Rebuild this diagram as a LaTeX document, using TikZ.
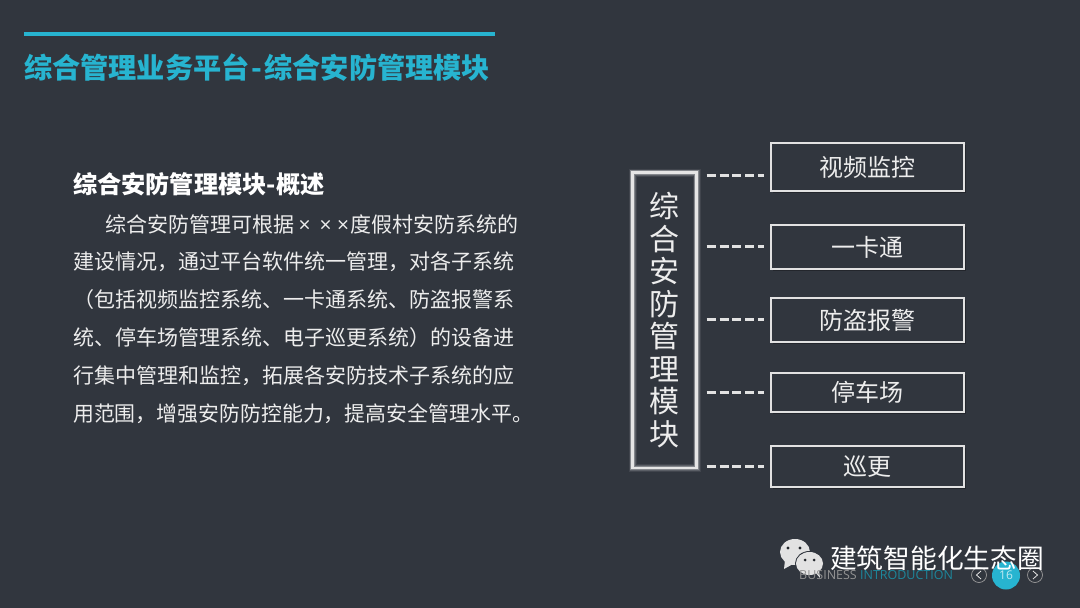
\documentclass[tikz,border=0pt]{standalone}
\usepackage{fontspec}
\setmainfont{Noto Sans CJK SC}
\newfontfamily\latinf{Open Sans}
\usetikzlibrary{calc}
\definecolor{bgc}{HTML}{31363E}
\definecolor{cyanc}{HTML}{27B4D0}
\definecolor{linec}{HTML}{E2E2E2}
\definecolor{bodyc}{HTML}{EDEDED}
\newcommand{\smx}{{\latinf\fontsize{21}{21}\selectfont ×}}
\tikzset{
  bodyline/.style={anchor=west,inner sep=0pt,text=bodyc,font=\fontsize{21}{21}\selectfont},
  itembox/.style={draw=linec,fill=bgc,line width=1.6pt,minimum width=193pt,inner sep=0pt,text=bodyc,font=\fontsize{24}{24}\selectfont},
  dashline/.style={draw=linec,line width=3pt,dash pattern=on 9pt off 3.8pt,shorten <=9pt,shorten >=6pt},
  navring/.style={draw=gray!80,line width=0.7pt,circle,minimum size=15pt,inner sep=0pt},
}
\begin{document}
\begin{tikzpicture}[x=1pt,y=-1pt]
\useasboundingbox (0,0) rectangle (1080,608);
\fill[bgc] (0,0) rectangle (1080,608);
% title
\coordinate (ruleA) at (24,34);
\coordinate (ruleB) at (495,34);
\draw[cyanc,line width=4.4pt] (ruleA) -- (ruleB);
\node[anchor=west,inner sep=0pt,text=cyanc,font=\fontsize{28.2}{28}\selectfont\bfseries] (title) at (24,67.5) {综合管理业务平台\hspace{1.5pt}-\hspace{2.5pt}综合安防管理模块};
% text
\node[anchor=west,inner sep=0pt,text=white,font=\fontsize{24.2}{24}\selectfont\bfseries] (head) at (73,184) {综合安防管理模块-概述};
\node[bodyline] (l1) at (105,224) {综合安防管理可根据\makebox[21pt]{\smx}\makebox[21pt]{\smx}\makebox[14pt]{\smx}度假村安防系统的};
\node[bodyline] (l2) at (73,262) {建设情况，通过平台软件统一管理，对各子系统};
\node[bodyline] (l3) at (73,300) {（包括视频监控系统、一卡通系统、防盗报警系};
\node[bodyline] (l4) at (73,338) {统、停车场管理系统、电子巡更系统）的设备进};
\node[bodyline] (l5) at (73,376) {行集中管理和监控，拓展各安防技术子系统的应};
\node[bodyline,font=\fontsize{20.9}{21}\selectfont] (l6) at (73,414) {用范围，增强安防防控能力，提高安全管理水平。};
% main box with glow
\foreach \w/\o in {8/0.08,6/0.14,4.5/0.25}{
  \draw[white,opacity=\o,line width=\w pt] (632.5,172.5) rectangle (696.5,468);
}
\node[draw=white!90!black,line width=2.4pt,minimum width=64pt,minimum height=295.5pt,inner sep=0pt,text=bodyc,align=center,
  font=\fontsize{30}{32.5}\selectfont] (main) at (664.5,320.2) {综\\合\\安\\防\\管\\理\\模\\块};
% item boxes
\foreach \x/\y/\h in {771/143.5/48,771/225.5/44,771/298.5/44,771/373.5/39,771/446.5/41}{
  \fill[black,opacity=0.28] (\x+1.5,\y+1.5) rectangle ++(193,\h);
}
\node[itembox,minimum height=48pt] (a) at (867.5,167) {视频监控};
\node[itembox,minimum height=44pt] (b) at (867.5,247) {一卡通};
\node[itembox,minimum height=44pt] (c) at (867.5,320) {防盗报警};
\node[itembox,minimum height=39pt] (d) at (867.5,392.5) {停车场};
\node[itembox,minimum height=41pt] (e) at (867.5,466.5) {巡更};
% connectors
\draw[dashline] (main.east |- 0,175.5) -- ($(a.west)+(0,8.5)$);
\draw[dashline] (main.east |- 0,246.5) -- ($(b.west)+(0,-0.5)$);
\draw[dashline] (main.east |- 0,319.5) -- ($(c.west)+(0,-0.5)$);
\draw[dashline] (main.east |- d.west) -- (d.west);
\draw[dashline] (main.east |- e.west) -- (e.west);
% watermark bubbles
\fill[linec] (795,552) ellipse (15pt and 13pt);
\fill[linec] (785,560) -- (784,569) -- (793,564) -- cycle;
\fill[bgc] (809.5,563.5) ellipse (14.5pt and 12.5pt);
\fill[linec] (809.5,563.5) ellipse (13.5pt and 11.5pt);
\fill[linec] (815,572) -- (820,578) -- (819,570) -- cycle;
\fill[bgc!70!black] (788,548) circle (1.6pt) (800,548) circle (1.6pt) (805,560) circle (1.5pt) (814,560) circle (1.5pt);
% footer
\node[anchor=west,inner sep=0pt,font=\latinf\fontsize{12.5}{12.5}\selectfont] (foot) at (799,575) {\textcolor{gray!85}{BUSINESS} \textcolor{cyanc!75!black}{INTRODUCTION}};
\node[navring] (prev) at (979,575) {};
\node[navring] (next) at (1035,575) {};
\draw[linec,line width=0.8pt] (981,571) -- (976.5,575) -- (981,579);
\draw[linec,line width=0.8pt] (1033,571) -- (1037.5,575) -- (1033,579);
\node[circle,fill=cyanc,minimum size=28pt,inner sep=0pt,text=white!70!cyanc,font=\latinf\fontsize{12}{12}\selectfont] (page) at (1006,575.5) {16};
\node[anchor=west,inner sep=0pt,text=white,font=\fontsize{26.7}{27}\selectfont] (wm) at (830,558) {建筑智能化生态圈};
\end{tikzpicture}
\end{document}
